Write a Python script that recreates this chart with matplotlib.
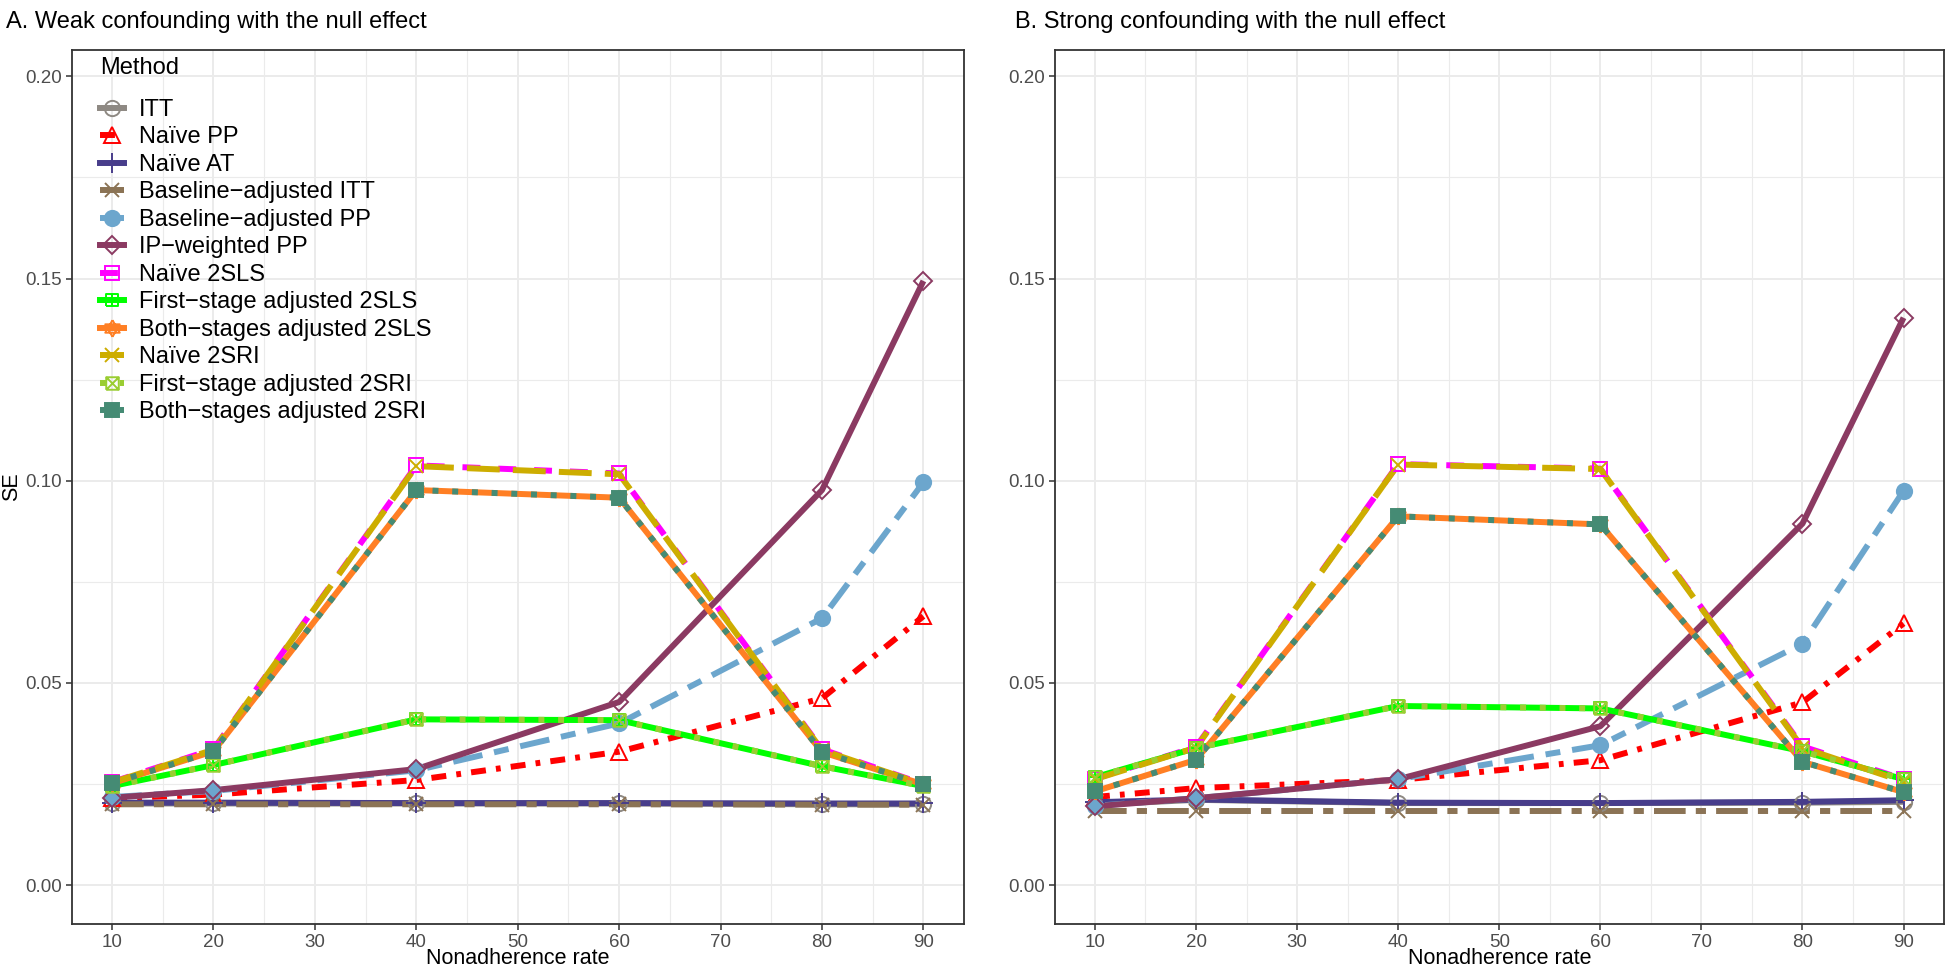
import numpy as np
import matplotlib
matplotlib.use("Agg")
import matplotlib.pyplot as plt
from matplotlib.path import Path
from matplotlib.lines import Line2D

plt.rcParams['font.family'] = ['Liberation Sans', 'DejaVu Sans']

# ---------------- data ----------------
rate = [10, 20, 40, 60, 80, 90]

methods = ['ITT', 'Naïve PP', 'Naïve AT', 'Baseline\u2212adjusted ITT', 'Baseline\u2212adjusted PP',
           'IP\u2212weighted PP', 'Naïve 2SLS', 'First\u2212stage adjusted 2SLS',
           'Both\u2212stages adjusted 2SLS', 'Naïve 2SRI', 'First\u2212stage adjusted 2SRI',
           'Both\u2212stages adjusted 2SRI']

# panel A: weak confounding
weak_itt = [0.0202, 0.0202, 0.0202, 0.0202, 0.0200, 0.0200]
weak_naive_pp = [0.0215, 0.0224, 0.0260, 0.0330, 0.0462, 0.0665]
weak_naive_at = [0.0204, 0.0204, 0.0203, 0.0203, 0.0202, 0.0202]
weak_base_itt = [0.0200, 0.0200, 0.0200, 0.0200, 0.0199, 0.0199]
weak_base_pp = [0.0218, 0.0233, 0.0284, 0.0400, 0.0660, 0.0996]
weak_ipw_pp = [0.0216, 0.0235, 0.0287, 0.0453, 0.0977, 0.1494]
weak_naive_2sls = [0.0255, 0.0336, 0.1038, 0.1018, 0.0336, 0.0250]
weak_first_2sls = [0.0245, 0.0297, 0.0410, 0.0408, 0.0294, 0.0245]
weak_both_2sls = [0.0252, 0.0331, 0.0977, 0.0958, 0.0329, 0.0249]
weak_naive_2sri = [0.0254, 0.0335, 0.1036, 0.1016, 0.0334, 0.0249]
weak_first_2sri = [0.0245, 0.0297, 0.0410, 0.0408, 0.0294, 0.0245]
weak_both_2sri = [0.0252, 0.0331, 0.0977, 0.0958, 0.0329, 0.0249]

# panel B: strong confounding
strong_itt = [0.0199, 0.0211, 0.0203, 0.0203, 0.0204, 0.0206]
strong_naive_pp = [0.0218, 0.0240, 0.0260, 0.0309, 0.0452, 0.0647]
strong_naive_at = [0.0205, 0.0212, 0.0204, 0.0203, 0.0206, 0.0210]
strong_base_itt = [0.0183, 0.0183, 0.0183, 0.0183, 0.0183, 0.0183]
strong_base_pp = [0.0196, 0.0215, 0.0262, 0.0346, 0.0597, 0.0975]
strong_ipw_pp = [0.0195, 0.0215, 0.0262, 0.0393, 0.0894, 0.1403]
strong_naive_2sls = [0.0263, 0.0342, 0.1041, 0.1030, 0.0343, 0.0262]
strong_first_2sls = [0.0267, 0.0339, 0.0443, 0.0437, 0.0331, 0.0262]
strong_both_2sls = [0.0232, 0.0310, 0.0912, 0.0892, 0.0305, 0.0230]
strong_naive_2sri = [0.0262, 0.0340, 0.1040, 0.1029, 0.0340, 0.0256]
strong_first_2sri = [0.0267, 0.0339, 0.0443, 0.0437, 0.0331, 0.0262]
strong_both_2sri = [0.0232, 0.0310, 0.0912, 0.0892, 0.0305, 0.0230]

weak = [weak_itt, weak_naive_pp, weak_naive_at, weak_base_itt, weak_base_pp, weak_ipw_pp,
        weak_naive_2sls, weak_first_2sls, weak_both_2sls, weak_naive_2sri, weak_first_2sri, weak_both_2sri]
strong = [strong_itt, strong_naive_pp, strong_naive_at, strong_base_itt, strong_base_pp, strong_ipw_pp,
          strong_naive_2sls, strong_first_2sls, strong_both_2sls, strong_naive_2sri, strong_first_2sri,
          strong_both_2sri]

titles = ['A. Weak confounding with the null effect', 'B. Strong confounding with the null effect']

# ---------------- styles ----------------
M, L = Path.MOVETO, Path.LINETO
sq = [(-1, -1), (1, -1), (1, 1), (-1, 1), (-1, -1)]
square_plus = Path(sq + [(-1, 0), (1, 0), (0, -1), (0, 1)], [M, L, L, L, L, M, L, M, L])
square_cross = Path(sq + [(-1, -1), (1, 1), (-1, 1), (1, -1)], [M, L, L, L, L, M, L, M, L])
h = 0.58
star = Path([(0, 1.15), (-1, -h), (1, -h), (0, 1.15), (0, -1.15), (-1, h), (1, h), (0, -1.15)],
            [M, L, L, L, M, L, L, L])

colors = ['#8E8983', '#FF0000', '#483D8B', '#8B7355', '#6CA6CD', '#8B3A62',
          '#FF00FF', '#00FF00', '#FF7F24', '#CDAD00', '#9ACD32', '#458B74']
linestyles = ['-', (0, (2.5, 1.7, 0.8, 1.7)), '-', (0, (5.3, 1.7, 1.7, 1.7)), (0, (5, 2, 2.5, 2)), '-',
              (0, (3, 3)), '-', '-', (0, (5.5, 2.2)), (0, (1, 2.3)), (0, (1, 2.3))]
markers = ['o', '^', '+', 'x', 'o', 'D', 's', square_plus, star, 'x', square_cross, 's']
filled = [False, False, True, True, True, False, False, False, False, True, False, True]
msizes = [11, 11, 14, 10, 11, 9, 10, 9, 12, 10, 9, 10]

lw = 4.3

fig = plt.figure(figsize=(19.46, 9.74), dpi=100)
W, H = 1946.0, 974.0
boxes = [(71.5, 964), (1054.5, 1944)]
top, bottom = 50, 924

for p, data in enumerate([weak, strong]):
    x0, x1 = boxes[p]
    ax = fig.add_axes([x0 / W, 1 - bottom / H, (x1 - x0) / W, (bottom - top) / H])
    for i in range(len(methods)):
        ax.plot(rate, data[i], color=colors[i], linestyle=linestyles[i], linewidth=lw,
                solid_capstyle='butt', dash_capstyle='butt', zorder=2)
    for i in range(len(methods)):
        ax.plot(rate, data[i], linestyle='none', marker=markers[i], markersize=msizes[i],
                markeredgecolor=colors[i], markerfacecolor=colors[i] if filled[i] else 'none',
                markeredgewidth=1.4, zorder=3)

    ax.set_xlim(6, 94)
    ax.set_ylim(-0.0096, 0.2065)
    ax.set_xticks(range(10, 100, 10))
    ax.set_xticks(range(15, 90, 10), minor=True)
    ax.set_yticks([0.0, 0.05, 0.10, 0.15, 0.20])
    ax.set_yticks([0.025, 0.075, 0.125, 0.175], minor=True)
    ax.set_yticklabels(['0.00', '0.05', '0.10', '0.15', '0.20'])
    ax.grid(which='major', color='#EBEBEB', linewidth=1.4, zorder=0)
    ax.grid(which='minor', color='#EBEBEB', linewidth=0.8, zorder=0)
    ax.set_axisbelow(True)
    ax.tick_params(which='major', length=4, width=1.1, color='#333333', labelsize=13.5,
                   labelcolor='#4D4D4D', pad=3)
    ax.tick_params(which='minor', length=0)
    for s in ax.spines.values():
        s.set_color('#333333')
        s.set_linewidth(1.3)

    fig.text((x0 + x1) / 2 / W, 1 - 959 / H, 'Nonadherence rate', ha='center', va='center', fontsize=15.5)
    fig.text((6 if p == 0 else 1015) / W, 1 - 22 / H, titles[p], ha='left', va='center', fontsize=17)

    if p == 0:
        fig.text(12 / W, 1 - 487 / H, 'SE', rotation=90, ha='center', va='center', fontsize=15.5)
        fig.text(100 / W, 1 - 68 / H, 'Method', ha='left', va='center', fontsize=17)
        handles = []
        for i in range(len(methods)):
            handles.append(Line2D([], [], color=colors[i], linestyle=linestyles[i], linewidth=lw,
                                  marker=markers[i], markersize=msizes[i], markeredgecolor=colors[i],
                                  markerfacecolor=colors[i] if filled[i] else 'none',
                                  markeredgewidth=1.4))
        leg = ax.legend(handles, methods, loc='upper left',
                        bbox_to_anchor=(100 / W, 1 - 99 / H), bbox_transform=fig.transFigure,
                        frameon=False, fontsize=17, handlelength=1.0,
                        handletextpad=0.65, labelspacing=0.232, borderpad=0, borderaxespad=0)

fig.savefig('out.png', dpi=100)
